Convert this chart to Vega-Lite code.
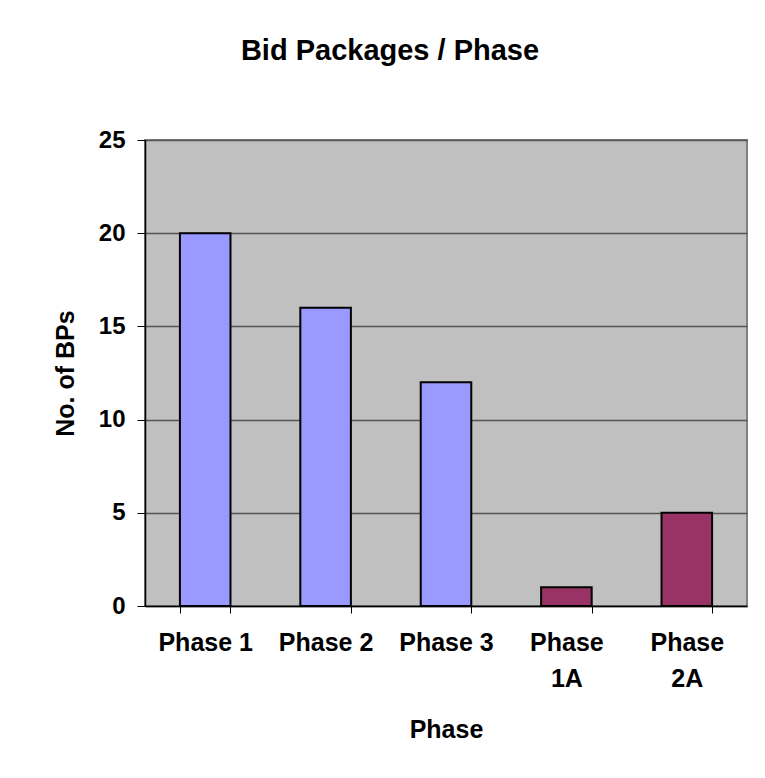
{
  "$schema": "https://vega.github.io/schema/vega-lite/v6.json",
  "autosize": "none",
  "width": 602,
  "height": 466,
  "padding": {"left": 145, "top": 140, "right": 18, "bottom": 172},
  "background": "white",
  "title": {
    "text": "Bid Packages / Phase",
    "anchor": "middle",
    "frame": "group",
    "dx": -56,
    "offset": 62,
    "font": "Liberation Sans",
    "fontSize": 29,
    "fontWeight": "bold",
    "color": "black"
  },
  "data": {
    "values": [
      {"Phase": "Phase 1", "BPs": 20},
      {"Phase": "Phase 2", "BPs": 16},
      {"Phase": "Phase 3", "BPs": 12},
      {"Phase": "Phase 1A", "BPs": 1},
      {"Phase": "Phase 2A", "BPs": 5}
    ]
  },
  "mark": {"type": "bar", "stroke": "black", "strokeWidth": 2, "opacity": 1},
  "encoding": {
    "x": {
      "field": "Phase",
      "type": "nominal",
      "sort": null,
      "scale": {"paddingInner": 0.58, "paddingOuter": 0.29},
      "axis": {
        "labelAngle": 0,
        "labelExpr": "length(datum.label) > 7 ? split(datum.label, ' ') : datum.label",
        "labelFont": "Liberation Sans",
        "labelFontSize": 25,
        "labelFontWeight": "bold",
        "labelColor": "black",
        "labelLineHeight": 36,
        "labelPadding": 17,
        "labelBaseline": "top",
        "tickBand": "extent",
        "tickSize": 7,
        "tickColor": "black",
        "domainColor": "black",
        "domainWidth": 1.5,
        "title": "Phase",
        "titleFont": "Liberation Sans",
        "titleFontSize": 25,
        "titleFontWeight": "bold",
        "titleColor": "black",
        "titleBaseline": "alphabetic",
        "titleY": 131,
        "titleX": 301,
        "labelLimit": 0
      }
    },
    "y": {
      "field": "BPs",
      "type": "quantitative",
      "scale": {"domain": [0, 25], "nice": false},
      "axis": {
        "values": [0, 5, 10, 15, 20, 25],
        "grid": true,
        "gridColor": "#555555",
        "gridWidth": 1.5,
        "labelFont": "Liberation Sans",
        "labelFontSize": 24,
        "labelFontWeight": "bold",
        "labelColor": "black",
        "labelPadding": 12,
        "tickSize": 8,
        "tickColor": "black",
        "domainColor": "black",
        "domainWidth": 1.5,
        "title": "No. of BPs",
        "titleFont": "Liberation Sans",
        "titleFontSize": 25,
        "titleFontWeight": "bold",
        "titleColor": "black",
        "titleAngle": -90,
        "titleAlign": "center",
        "titleBaseline": "alphabetic",
        "titleX": -72,
        "titleY": 233
      }
    },
    "color": {
      "field": "Phase",
      "type": "nominal",
      "sort": null,
      "scale": {"range": ["#9999FF", "#9999FF", "#9999FF", "#993366", "#993366"]},
      "legend": null
    }
  },
  "config": {
    "view": {"fill": "#C0C0C0", "stroke": "#808080", "strokeWidth": 2}
  }
}
